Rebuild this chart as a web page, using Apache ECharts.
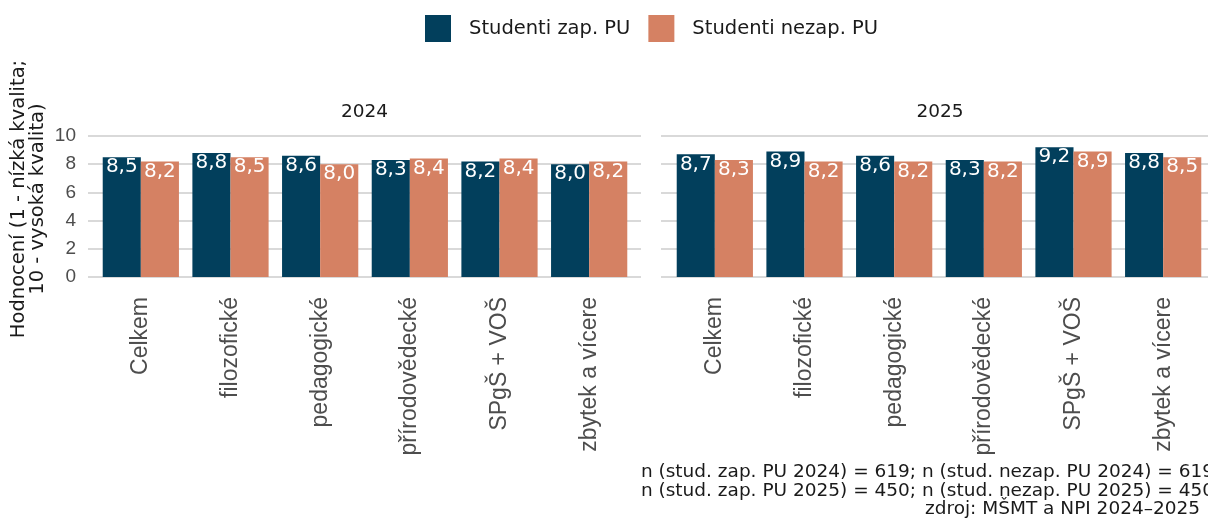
<!DOCTYPE html>
<html>
<head>
<meta charset="utf-8">
<script src="https://cdn.jsdelivr.net/npm/echarts@6/dist/echarts.min.js"></script>
<style>
html,body{margin:0;padding:0;background:#fff;}
#chart{width:1208px;height:525px;}
</style>
</head>
<body>
<div id="chart"></div>
<script>
var categories=['Celkem','filozofické','pedagogické','přírodovědecké','SPgŠ + VOŠ','zbytek a vícere'];
var seriesNames=['Studenti zap. PU','Studenti nezap. PU'];
var years=['2024','2025'];
var zap2024=[8.5,8.8,8.6,8.3,8.2,8.0];
var nezap2024=[8.2,8.5,8.0,8.4,8.4,8.2];
var zap2025=[8.7,8.9,8.6,8.3,9.2,8.8];
var nezap2025=[8.3,8.2,8.2,8.2,8.9,8.5];
var captionLines=[
    'n (stud. zap. PU 2024) = 619; n (stud. nezap. PU 2024) = 619',
    'n (stud. zap. PU 2025) = 450; n (stud. nezap. PU 2025) = 450'
];
var sourceLine='zdroj: MŠMT a NPI 2024–2025';

var darkColor='#023f5c';
var orangeColor='#d58163';
var font='DejaVu Sans';
var tickFont='Liberation Sans';

function fmt(v){
    return v.toFixed(1).replace('.',',');
}

function barSeries(name,data,idx,color){
    return {
        name:name,
        type:'bar',
        xAxisIndex:idx,
        yAxisIndex:idx,
        data:data,
        barGap:'0%',
        barCategoryGap:'15%',
        itemStyle:{color:color},
        label:{
            show:true,
            position:'insideTop',
            distance:0,
            color:'#ffffff',
            fontFamily:font,
            fontSize:20,
            formatter:function(p){return fmt(p.value);}
        }
    };
}

// grids: 0/2 = gridlines (wider panel), 1/3 = bars
var grids=[
    {left:88,width:553,top:136,height:141},
    {left:96,width:538,top:136,height:141},
    {left:661,width:560,top:136,height:141},
    {left:670,width:538,top:136,height:141}
];

function lineY(g,showLabels){
    return {
        type:'value',gridIndex:g,min:0,max:10,interval:2,
        axisLine:{show:false},axisTick:{show:false},
        splitLine:{show:true,lineStyle:{color:'#d9d9d9',width:2}},
        axisLabel:{show:showLabels,color:'#4d4d4d',fontFamily:tickFont,fontSize:19,margin:12}
    };
}
function barY(g){
    return {type:'value',gridIndex:g,min:0,max:10,show:false,splitLine:{show:false}};
}
function barX(g){
    return {
        type:'category',gridIndex:g,data:categories,
        axisLine:{show:false},axisTick:{show:false},
        axisLabel:{rotate:90,interval:0,color:'#4d4d4d',fontFamily:tickFont,fontSize:23,margin:20}
    };
}
function hiddenX(g){
    return {type:'value',gridIndex:g,min:0,max:1,show:false,splitLine:{show:false}};
}

var myChart=echarts.init(document.getElementById('chart'),null,{renderer:'canvas'});
var option={
    animation:false,
    backgroundColor:'#ffffff',
    legend:{
        data:seriesNames,
        top:15,
        left:425,
        padding:0,
        itemWidth:26,
        itemHeight:27,
        itemGap:18,
        icon:'rect',
        textStyle:{color:'#1a1a1a',fontFamily:font,fontSize:19.5,padding:[0,0,0,13]}
    },
    grid:grids,
    xAxis:[hiddenX(0),barX(1),hiddenX(2),barX(3)],
    yAxis:[lineY(0,true),barY(1),lineY(2,false),barY(3)],
    series:[
        barSeries(seriesNames[0],zap2024,1,darkColor),
        barSeries(seriesNames[1],nezap2024,1,orangeColor),
        barSeries(seriesNames[0],zap2025,3,darkColor),
        barSeries(seriesNames[1],nezap2025,3,orangeColor)
    ],
    graphic:[
        {type:'text',x:364.5,y:112,style:{text:years[0],fontFamily:font,fontSize:18.5,fill:'#1a1a1a',textAlign:'center',textVerticalAlign:'middle'}},
        {type:'text',x:940,y:112,style:{text:years[1],fontFamily:font,fontSize:18.5,fill:'#1a1a1a',textAlign:'center',textVerticalAlign:'middle'}},
        {type:'text',x:28,y:199,rotation:Math.PI/2,style:{text:'Hodnocení (1 - nízká kvalita;\n10 - vysoká kvalita)',fontFamily:font,fontSize:19.5,lineHeight:19,fill:'#1a1a1a',textAlign:'center',textVerticalAlign:'middle'}},
        {type:'text',x:1214,y:463,style:{text:captionLines.join('\n'),fontFamily:font,fontSize:18.5,lineHeight:18.5,fill:'#1a1a1a',textAlign:'right',textVerticalAlign:'top'}},
        {type:'text',x:925,y:500,style:{text:sourceLine,fontFamily:font,fontSize:18.5,lineHeight:18.5,fill:'#1a1a1a',textAlign:'left',textVerticalAlign:'top'}}
    ]
};
myChart.setOption(option);
</script>
</body>
</html>
